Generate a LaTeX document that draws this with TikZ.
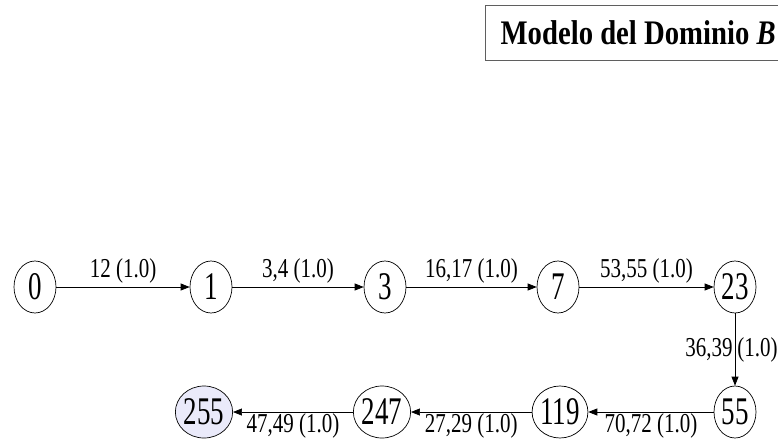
\documentclass[tikz,border=0pt]{standalone}
\usepackage{fontspec}
\setmainfont{Liberation Serif}
\usetikzlibrary{shapes.geometric, arrows.meta}
\definecolor{goalfill}{RGB}{234,234,250}
\definecolor{boxgray}{RGB}{95,95,95}
\newcommand{\tallt}[1]{\scalebox{1}[1.45]{#1}}
\newcommand{\talll}[1]{\scalebox{1}[1.3]{#1}}

\begin{document}
\begin{tikzpicture}[x=1pt, y=-1pt,
        st/.style={draw, ellipse, minimum width=42pt, minimum height=52pt,
                   inner sep=0pt, line width=0.7pt,
                   font=\fontsize{27}{27}\selectfont},
        tr/.style={-{Triangle[length=9pt, width=7pt]}, line width=0.7pt},
        lbl/.style={font=\fontsize{21}{21}\selectfont, inner sep=0pt}
    ]
    \useasboundingbox (0,0) rectangle (778,439);

    \node[draw=boxgray, line width=1.3pt, anchor=north west,
          minimum width=305pt, minimum height=55pt,
          font=\fontsize{28.7}{30}\selectfont\bfseries] (title) at (485,5)
        {\scalebox{1}[1.2]{Modelo del Dominio \textit{B}}};

    % fila superior
    \node[st] (n0) at (35,287) {\tallt{0}};
    \node[st] (n1) at (211,287) {\tallt{1}};
    \node[st] (n3) at (385,287) {\tallt{3}};
    \node[st] (n7) at (558,287) {\tallt{7}};
    \node[st] (n23) at (735,287) {\tallt{23}};

    % fila inferior
    \node[st] (n55) at (735,412) {\tallt{55}};
    \node[st] (n119) at (560,412) {\tallt{119}};
    \node[st] (n247) at (382,412) {\tallt{247}};
    \node[st, fill=goalfill] (n255) at (204,412) {\tallt{255}};

    \draw[tr] (n0) -- node[lbl, above=3pt] {\talll{12 (1.0)}} (n1);
    \draw[tr] (n1) -- node[lbl, above=3pt] {\talll{3,4 (1.0)}} (n3);
    \draw[tr] (n3) -- node[lbl, above=3pt] {\talll{16,17 (1.0)}} (n7);
    \draw[tr] (n7) -- node[lbl, above=3pt] {\talll{53,55 (1.0)}} (n23);
    \draw[tr] (n23) -- node[lbl, left=2pt] {\talll{36,39}}
                       node[lbl, right=2pt] {\talll{(1.0)}} (n55);
    \draw[tr] (n55) -- node[lbl, below=1pt] {\talll{70,72 (1.0)}} (n119);
    \draw[tr] (n119) -- node[lbl, below=1pt] {\talll{27,29 (1.0)}} (n247);
    \draw[tr] (n247) -- node[lbl, below=1pt] {\talll{47,49 (1.0)}} (n255);

\end{tikzpicture}
\end{document}
